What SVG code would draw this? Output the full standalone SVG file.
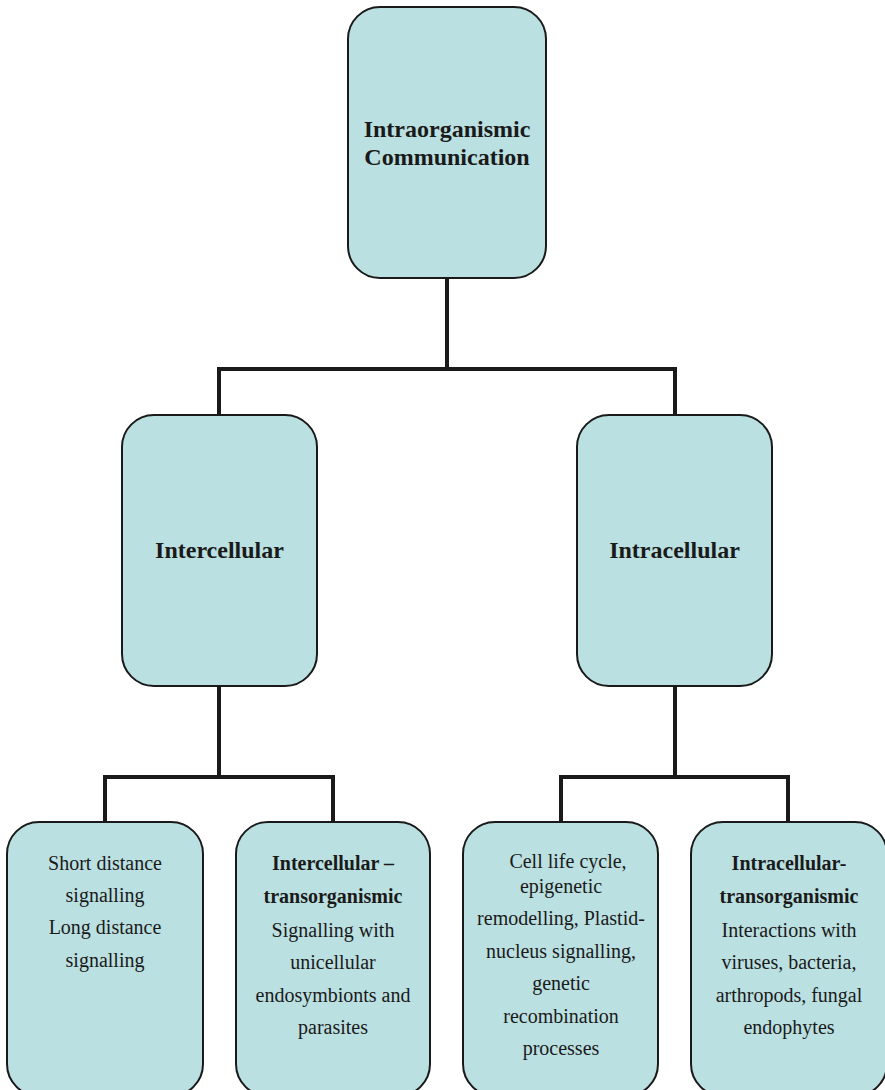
<svg xmlns="http://www.w3.org/2000/svg" width="885" height="1090" viewBox="0 0 885 1090">
  <style>
    .box { fill: #bbe0e1; stroke: #1a1a1a; stroke-width: 2; }
    .wire { fill: none; stroke: #1a1a1a; stroke-width: 4; stroke-linecap: butt; stroke-linejoin: miter; }
    text { font-family: "Liberation Serif", "Times New Roman", serif; fill: #1a1a1a; text-anchor: middle; }
    .head { font-size: 24px; font-weight: bold; }
    .body { font-size: 20px; }
    .bold { font-weight: bold; }
  </style>
  <rect width="885" height="1090" fill="#ffffff"/>

  <!-- tree connectors -->
  <g id="connectors">
    <path class="wire" d="M447 278 V369"/>
    <path class="wire" d="M219 415 V369 H675 V415"/>
    <path class="wire" d="M219 686 V777"/>
    <path class="wire" d="M105 822 V777 H333 V822"/>
    <path class="wire" d="M675 686 V777"/>
    <path class="wire" d="M561 822 V777 H788 V822"/>
  </g>

  <g id="root">
    <rect class="box" x="348" y="7" width="198" height="271" rx="32" ry="32"/>
    <text class="head" x="447" y="137">Intraorganismic</text>
    <text class="head" x="447" y="165">Communication</text>
  </g>

  <g id="intercellular">
    <rect class="box" x="122" y="415" width="195" height="271" rx="32" ry="32"/>
    <text class="head" x="219.5" y="558">Intercellular</text>
  </g>

  <g id="intracellular">
    <rect class="box" x="577" y="415" width="195" height="271" rx="32" ry="32"/>
    <text class="head" x="674.5" y="558">Intracellular</text>
  </g>

  <g id="signalling">
    <rect class="box" x="7" y="822" width="196" height="274" rx="32" ry="32"/>
    <text class="body" x="105" y="870">Short distance</text>
    <text class="body" x="105" y="902">signalling</text>
    <text class="body" x="105" y="934">Long distance</text>
    <text class="body" x="105" y="967">signalling</text>
  </g>

  <g id="intercellular-transorganismic">
    <rect class="box" x="236" y="822" width="194" height="274" rx="32" ry="32"/>
    <text class="body bold" x="333" y="870">Intercellular –</text>
    <text class="body bold" x="333" y="903">transorganismic</text>
    <text class="body" x="333" y="937">Signalling with</text>
    <text class="body" x="333" y="969">unicellular</text>
    <text class="body" x="333" y="1002">endosymbionts and</text>
    <text class="body" x="333" y="1034">parasites</text>
  </g>

  <g id="intracellular-processes">
    <rect class="box" x="463" y="822" width="195" height="274" rx="32" ry="32"/>
    <text class="body" x="568" y="868">Cell life cycle,</text>
    <text class="body" x="561" y="893">epigenetic</text>
    <text class="body" x="561" y="925">remodelling, Plastid-</text>
    <text class="body" x="561" y="958">nucleus signalling,</text>
    <text class="body" x="561" y="990">genetic</text>
    <text class="body" x="561" y="1023">recombination</text>
    <text class="body" x="561" y="1055">processes</text>
  </g>

  <g id="intracellular-transorganismic">
    <rect class="box" x="691" y="822" width="196" height="274" rx="32" ry="32"/>
    <text class="body bold" x="789" y="870">Intracellular-</text>
    <text class="body bold" x="789" y="903">transorganismic</text>
    <text class="body" x="789" y="937">Interactions with</text>
    <text class="body" x="789" y="969">viruses, bacteria,</text>
    <text class="body" x="789" y="1002">arthropods, fungal</text>
    <text class="body" x="789" y="1034">endophytes</text>
  </g>
</svg>
